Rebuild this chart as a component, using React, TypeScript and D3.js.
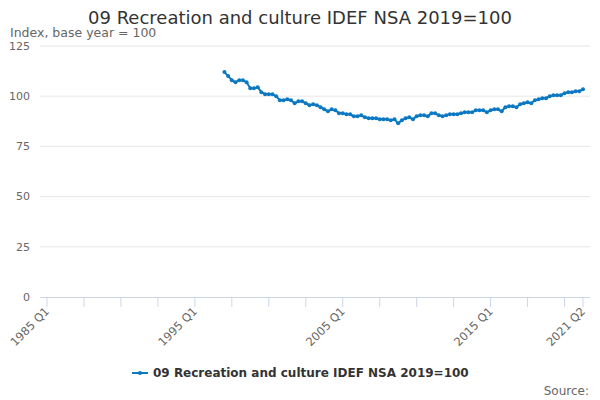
import React from "react";
import * as d3 from "d3";

// ── Data ──────────────────────────────────────────────────────────────────────

const TITLE = "09 Recreation and culture IDEF NSA 2019=100";
const SUBTITLE = "Index, base year = 100";
const SERIES_NAME = "09 Recreation and culture IDEF NSA 2019=100";

const years = d3.range(1985, 2022);
const quarterNames = ["Q1", "Q2", "Q3", "Q4"];
const categories: string[] = years
  .flatMap((y) => quarterNames.map((q) => `${y} ${q}`))
  .filter((c) => c <= "2021 Q2");

const firstQuarter = "1997 Q1";
// quarterly values from 1997 Q1 to 2021 Q2
const values: number[] = [
  112, 110, 108, 107, 108, 108, 107, 104, // 1997–1998
  104, 104.5, 102, 101, 101, 101, 100, 98, // 1999–2000
  98, 98.5, 98, 96.5, 97.5, 97.5, 96.5, 95.5, // 2001–2002
  96, 95.5, 94.5, 93.5, 92.5, 93.5, 93, 91.5, // 2003–2004
  91.5, 91, 91, 90, 90, 90.5, 89.5, 89, // 2005–2006
  89, 89, 88.5, 88.5, 88.5, 88, 88.5, 86.5, // 2007–2008
  88, 89, 89.5, 88.5, 90, 90.5, 90.5, 90, // 2009–2010
  91.5, 91.5, 90.5, 90, 90.5, 91, 91, 91, // 2011–2012
  91.5, 92, 92, 92, 93, 93, 93, 92, // 2013–2014
  93, 93.5, 93.5, 92.5, 94.5, 95, 95, 94.5, // 2015–2016
  96, 96.5, 97, 96.5, 98, 98.5, 99, 99, // 2017–2018
  100, 100.5, 100.5, 100.5, 101.5, 102, 102, 102.5, // 2019–2020
  102.5, 103.5, // 2021
];

const yTicks = [0, 25, 50, 75, 100, 125];
const labelledTicks = ["1985 Q1", "1995 Q1", "2005 Q1", "2015 Q1", "2021 Q2"];

// ── Constants ─────────────────────────────────────────────────────────────────

const WIDTH = 600;
const HEIGHT = 400;
const PLOT = { left: 47, right: 583, top: 46, bottom: 297 };
const COLOR = "#0a78c2";
const FONT = "'DejaVu Sans', sans-serif";

type Point = { q: string; v: number };

export default function App() {
  const start = categories.indexOf(firstQuarter);
  const points: Point[] = values.map((v, i) => ({ q: categories[start + i], v }));

  const x = d3
    .scalePoint<string>()
    .domain(categories)
    .range([PLOT.left, PLOT.right]);
  const y = d3.scaleLinear().domain([0, 125]).range([PLOT.bottom, PLOT.top]);

  const line = d3
    .line<Point>()
    .x((d) => x(d.q) ?? 0)
    .y((d) => y(d.v));

  // minor ticks every 10 quarters, plus the final quarter
  const tickCats = categories.filter((_, i) => i % 10 === 0);
  tickCats.push(categories[categories.length - 1]);

  const legendX = 300;

  return (
    <svg
      width={WIDTH}
      height={HEIGHT}
      style={{ display: "block", position: "absolute", left: 0, top: 0, background: "#fff" }}
      fontFamily={FONT}
    >
      <text x={WIDTH / 2} y={24} textAnchor="middle" fontSize={18} fill="#333">
        {TITLE}
      </text>
      <text x={10} y={37} fontSize={12.5} fill="#666">
        {SUBTITLE}
      </text>

      {/* Gridlines + y labels */}
      {yTicks.map((t) => (
        <g key={t}>
          {t > 0 && (
            <line x1={40} x2={590} y1={y(t)} y2={y(t)} stroke="#e6e6e6" strokeWidth={1} />
          )}
          <text x={30} y={y(t)} dy="0.35em" textAnchor="end" fontSize={11} fill="#666">
            {t}
          </text>
        </g>
      ))}

      {/* X axis */}
      <line x1={40} x2={590} y1={PLOT.bottom + 0.5} y2={PLOT.bottom + 0.5} stroke="#ccd6eb" />
      {tickCats.map((c) => (
        <line
          key={c}
          x1={x(c)}
          x2={x(c)}
          y1={PLOT.bottom}
          y2={PLOT.bottom + 10}
          stroke="#ccd6eb"
        />
      ))}
      {labelledTicks.map((c) => (
        <text
          key={c}
          transform={`translate(${(x(c) ?? 0) + 3},${PLOT.bottom + 15}) rotate(-45)`}
          textAnchor="end"
          fontSize={11.5}
          fill="#666"
        >
          {c}
        </text>
      ))}

      {/* Series */}
      <path d={line(points) ?? ""} fill="none" stroke={COLOR} strokeWidth={2} />
      {points.map((d) => (
        <circle key={d.q} cx={x(d.q)} cy={y(d.v)} r={2} fill={COLOR} />
      ))}

      {/* Legend */}
      <g transform={`translate(${legendX - 168},373)`}>
        <line x1={0} x2={16} y1={0} y2={0} stroke={COLOR} strokeWidth={2} />
        <circle cx={8} cy={0} r={2} fill={COLOR} />
        <text x={21} y={0} dy="0.35em" fontSize={12} fontWeight="bold" fill="#333">
          {SERIES_NAME}
        </text>
      </g>

      <text x={589} y={395} textAnchor="end" fontSize={12} fill="#666">
        Source:
      </text>
    </svg>
  );
}
